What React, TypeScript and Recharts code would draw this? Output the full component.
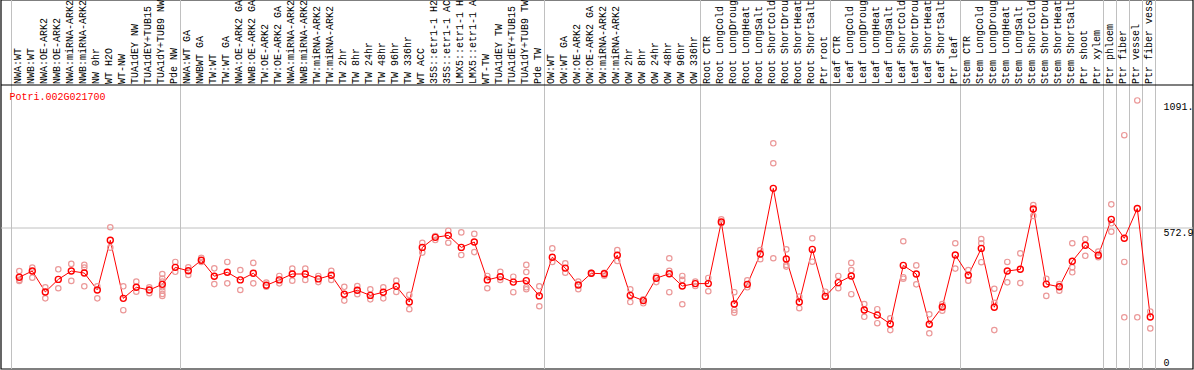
import React from 'react';
import { ComposedChart, Line, Scatter, XAxis, YAxis, ReferenceLine, ReferenceArea } from 'recharts';

const FONT = '"Liberation Mono", "DejaVu Sans Mono", monospace';

const geneId = 'Potri.002G021700';

const categories: string[] = [
  'NWA:WT', 'NWB:WT', 'NWA:OE-ARK2', 'NWB:OE-ARK2', 'NWA:miRNA-ARK2', 'NWB:miRNA-ARK2', 'NW 0hr', 'WT H2O', 'WT-NW',
  'TUA1dEY NW', 'TUA1dEY+TUB15', 'TUA1dY+TUB9 NW', 'Pde NW',
  'NWA:WT GA', 'NWBWT GA', 'TW:WT', 'TW:WT GA', 'NWA:OE-ARK2 GA', 'NWB:OE-ARK2 GA', 'TW:OE-ARK2', 'TW:OE-ARK2 GA',
  'NWA:miRNA-ARK2', 'NWB:miRNA-ARK2', 'TW:miRNA-ARK2', 'TW:miRNA-ARK2 ', 'TW 2hr', 'TW 8hr', 'TW 24hr', 'TW 48hr',
  'TW 96hr', 'TW 336hr', 'WT ACC', '35S::etr1-1 H2', '35S::etr1-1 AC', 'LMX5::etr1-1 H', 'LMX5::etr1-1 A', 'WT-TW',
  'TUA1dEY TW', 'TUA1dEY+TUB15', 'TUA1dY+TUB9 TW', 'Pde TW',
  'OW:WT', 'OW:WT GA', 'OW:OE-ARK2', 'OW:OE-ARK2 GA', 'OW:miRNA-ARK2', 'OW:miRNA-ARK2 ', 'OW 2hr', 'OW 8hr',
  'OW 24hr', 'OW 48hr', 'OW 96hr', 'OW 336hr',
  'Root CTR', 'Root LongCold', 'Root LongDroug', 'Root LongHeat', 'Root LongSalt', 'Root ShortCold', 'Root ShortDrou',
  'Root ShortHeat', 'Root ShortSalt', 'Ptr root',
  'Leaf CTR', 'Leaf LongCold', 'Leaf LongDroug', 'Leaf LongHeat', 'Leaf LongSalt', 'Leaf ShortCold', 'Leaf ShortDrou',
  'Leaf ShortHeat', 'Leaf ShortSalt', 'Ptr leaf',
  'Stem CTR', 'Stem LongCold', 'Stem LongDroug', 'Stem LongHeat', 'Stem LongSalt', 'Stem ShortCold', 'Stem ShortDrou',
  'Stem ShortHeat', 'Stem ShortSalt', 'Ptr shoot', 'Ptr xylem',
  'Ptr phloem', 'Ptr fiber', 'Ptr vessel', 'Ptr fiber vess',
];

const means: number[] = [
  373, 398, 313, 364, 398, 390, 321, 523, 287, 332, 321, 344, 413,
  399, 442, 377, 393, 362, 389, 340, 362, 386, 386, 366, 381, 304, 320, 299, 312, 336, 272, 494, 535, 543, 494, 516,
  362, 375, 353, 359, 297,
  454, 410, 341, 389, 387, 462, 299, 278, 369, 387, 337, 347,
  347, 597, 264, 344, 467, 734, 447, 272, 486, 295,
  351, 378, 240, 219, 183, 421, 386, 182, 252, 463,
  381, 490, 251, 398, 405, 650, 345, 334, 438, 503, 462,
  608, 531, 652, 211,
];

const replicates: number[][] = [
  [398, 362, 358], [412, 371], [332, 287], [405, 328], [427, 358], [423, 412, 336], [336, 287], [576, 493],
  [336, 239], [355, 314], [332, 308], [386, 368, 355, 332, 318, 305, 297], [435, 395],
  [413, 382], [452, 435], [409, 345], [435, 348], [402, 321], [431, 348], [351, 334], [378, 348], [408, 359],
  [408, 362], [378, 353], [399, 362], [334, 278], [337, 304], [324, 283], [332, 287], [359, 313], [301, 243],
  [513, 473], [540, 524], [562, 513], [555, 463], [549, 475], [378, 328], [395, 362], [375, 312],
  [423, 394, 332, 324], [336, 255],
  [490, 435], [429, 391], [355, 324], [391, 387], [379, 391], [483, 439], [324, 272], [283, 267], [378, 353],
  [450, 399, 312], [378, 362, 263], [355, 337],
  [370, 316], [608, 592], [312, 240, 229], [360, 332], [483, 446], [917, 836, 450], [486, 423, 416], [294, 247],
  [531, 436], [314, 294],
  [378, 328], [431, 402, 304], [264, 212], [243, 186], [206, 158], [519, 373, 367], [421, 344], [222, 145],
  [264, 237], [511, 408],
  [402, 359], [528, 511, 434], [326, 269, 158], [435, 352], [470, 349], [666, 622], [366, 297], [345, 318],
  [511, 413, 393], [528, 460], [477, 454],
  [669, 592, 558], [950, 435, 210], [1091.2, 210], [233, 165],
];

const groupBoundaries: number[] = [-0.6, 12.4, 40.4, 52.4, 62.4, 72.4, 83.4, 84.4, 85.4, 86.4, 87.4];
const yTicks: number[] = [0, 572.9, 1091.2];
const yTickLabels: string[] = ['0', '572.9', '1091.'];
const gridValue = 572.9;
const headerSeparatorValue = 1153.9;

const X_DOMAIN: [number, number] = [-1.408, 90.285];
const Y_DOMAIN: [number, number] = [0, 1499.3];

const meanData = categories.map((c, i) => ({ idx: i, name: c, mean: means[i] }));
const repData = replicates.flatMap((reps, i) => reps.map((v) => ({ idx: i, rep: v })));
const tickIdx = categories.map((_, i) => i);

const renderCategoryTick = (props: any) => {
  const { x, payload } = props;
  return (
    <text
      key={`c-${payload.value}`}
      transform={`translate(${x + 1.6},84) rotate(-90)`}
      fontSize={10}
      fontFamily={FONT}
      fill="#000"
      textAnchor="start"
    >
      {categories[payload.value]}
    </text>
  );
};

const renderValueTick = (props: any) => {
  const { y, payload } = props;
  const k = yTicks.indexOf(payload.value);
  const dy = payload.value === 0 ? -3.5 : payload.value > 1000 ? 10 : 8.2;
  return (
    <text key={`v-${k}`} x={1163.5} y={y + dy} fontSize={10} fontFamily={FONT} fill="#000" textAnchor="start">
      {yTickLabels[k]}
    </text>
  );
};

const RepDot = (props: any) => {
  const { cx, cy } = props;
  return <circle cx={cx} cy={cy} r={2.7} fill="none" stroke="#eb9999" strokeWidth={1.2} />;
};

export default function App() {
  return (
    <div style={{ position: 'absolute', left: 0, top: 0, width: 1194, height: 370, background: '#fff' }}>
      <ComposedChart
        width={1194}
        height={370}
        data={meanData}
        margin={{ top: 0, right: 1, bottom: 1, left: 1 }}
      >
        <XAxis
          xAxisId={0}
          dataKey="idx"
          type="number"
          domain={X_DOMAIN}
          allowDataOverflow
          orientation="top"
          mirror
          ticks={tickIdx}
          interval={0}
          axisLine={false}
          tickLine={false}
          tick={renderCategoryTick}
        />
        <YAxis
          yAxisId={0}
          type="number"
          domain={Y_DOMAIN}
          allowDataOverflow
          orientation="right"
          mirror
          ticks={yTicks}
          interval={0}
          axisLine={false}
          tickLine={false}
          tick={renderValueTick}
        />
        {groupBoundaries.map((b) => (
          <ReferenceLine key={b} x={b} stroke="#c0c0c0" strokeWidth={1} />
        ))}
        <ReferenceLine y={gridValue} stroke="#c0c0c0" strokeWidth={1} />
        <ReferenceLine y={headerSeparatorValue} stroke="#000" strokeWidth={1.2} />
        <ReferenceArea
          x1={X_DOMAIN[0]}
          x2={X_DOMAIN[1]}
          y1={Y_DOMAIN[0]}
          y2={Y_DOMAIN[1]}
          fill="none"
          fillOpacity={0}
          stroke="#000"
          strokeWidth={1.2}
        />
        <Scatter data={repData} dataKey="rep" shape={<RepDot />} isAnimationActive={false} />
        <Line
          type="linear"
          dataKey="mean"
          stroke="#ff0000"
          strokeWidth={1}
          dot={{ r: 3, stroke: '#ff0000', strokeWidth: 1.4, fill: 'none' }}
          activeDot={false}
          isAnimationActive={false}
        />
      </ComposedChart>
      <svg
        width={200}
        height={20}
        style={{ position: 'absolute', left: 0, top: 88 }}
      >
        <text x={9.5} y={12.3} fontSize={10} fontFamily={FONT} fill="#ff0000">
          {geneId}
        </text>
      </svg>
    </div>
  );
}
